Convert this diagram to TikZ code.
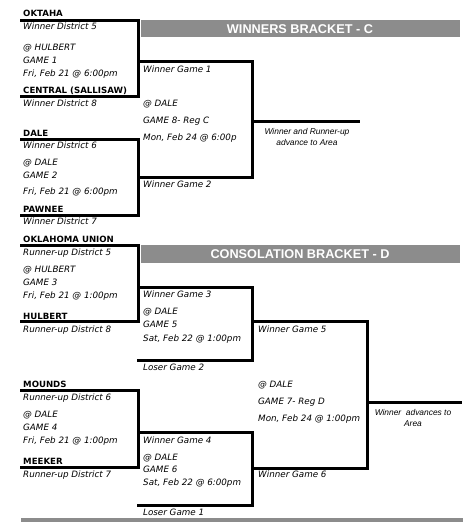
\documentclass[tikz,border=0pt]{standalone}
\usepackage{fontspec}
\setmainfont{DejaVu Sans}
\newfontfamily\arialfont{Liberation Sans}
\definecolor{bargray}{RGB}{140,140,140}
\tikzset{
  lbl/.style={anchor=base west, inner sep=0pt, font=\fontsize{8.75}{10}\selectfont\itshape},
  team/.style={anchor=base west, inner sep=0pt, font=\fontsize{8.6}{10}\selectfont\bfseries},
  note/.style={anchor=center, inner sep=0pt, align=center, font=\arialfont\fontsize{8.4}{10.2}\selectfont\itshape},
  bar/.style={fill=bargray, draw=none},
  bartitle/.style={anchor=center, inner sep=0pt, text=white, font=\arialfont\fontsize{12.7}{14}\selectfont\bfseries},
  bline/.style={line width=3pt, line cap=rect, draw=black}
}
\begin{document}
\begin{tikzpicture}[x=1pt,y=-1pt]
\useasboundingbox (0,0) rectangle (474,522);
% title bars
\fill[bar] (141,20) rectangle (460,37);
\node[bartitle] (tw) at (300,29) {WINNERS BRACKET - C};
\fill[bar] (141,245) rectangle (460,263);
\node[bartitle] (tc) at (300,254.5) {CONSOLATION BRACKET - D};
\fill[bar] (21,518) rectangle (463,522);
% coordinates
\coordinate (g1a) at (21,20); \coordinate (g1b) at (138,20);
\coordinate (g1c) at (138,96); \coordinate (g1d) at (21,96);
\coordinate (g1o) at (138,61); \coordinate (g8a) at (252,61);
\coordinate (g2a) at (21,139); \coordinate (g2b) at (138,139);
\coordinate (g2c) at (138,215); \coordinate (g2d) at (21,215);
\coordinate (g2o) at (138,177); \coordinate (g8b) at (252,177);
\coordinate (g8o) at (252,121); \coordinate (g8e) at (358,121);
\coordinate (g3a) at (21,245); \coordinate (g3b) at (138,245);
\coordinate (g3c) at (138,321); \coordinate (g3d) at (21,321);
\coordinate (g3o) at (138,287); \coordinate (g5a) at (252,287);
\coordinate (g5b) at (252,360); \coordinate (g5c) at (138,360);
\coordinate (g5o) at (252,321); \coordinate (g7a) at (367,321);
\coordinate (g4a) at (21,390); \coordinate (g4b) at (138,390);
\coordinate (g4c) at (138,467); \coordinate (g4d) at (21,467);
\coordinate (g4o) at (138,432); \coordinate (g6a) at (252,432);
\coordinate (g6b) at (252,505); \coordinate (g6c) at (138,505);
\coordinate (g6o) at (252,468); \coordinate (g7b) at (367,468);
\coordinate (g7o) at (367,402); \coordinate (g7e) at (460,402);
% bracket lines
\draw[bline] (g1a) -- (g1b) -- (g1c) -- (g1d);
\draw[bline] (g1o) -- (g8a);
\draw[bline] (g2a) -- (g2b) -- (g2c) -- (g2d);
\draw[bline] (g2o) -- (g8b);
\draw[bline] (g8a) -- (g8b);
\draw[bline] (g8o) -- (g8e);
\draw[bline] (g3a) -- (g3b) -- (g3c) -- (g3d);
\draw[bline] (g3o) -- (g5a) -- (g5b) -- (g5c);
\draw[bline] (g5o) -- (g7a);
\draw[bline] (g4a) -- (g4b) -- (g4c) -- (g4d);
\draw[bline] (g4o) -- (g6a) -- (g6b) -- (g6c);
\draw[bline] (g6o) -- (g7b);
\draw[bline] (g7a) -- (g7b);
\draw[bline] (g7o) -- (g7e);
% column 1
\node[team] (t1) at (23,16.5) {OKTAHA};
\node[lbl] (t1s) at (23,29.5) {Winner District 5};
\node[lbl] (g1l1) at (23,50.5) {@ HULBERT};
\node[lbl] (g1l2) at (23,63.5) {GAME 1};
\node[lbl] (g1l3) at (23,76.5) {Fri, Feb 21 @ 6:00pm};
\node[team] (t2) at (23,93.5) {CENTRAL (SALLISAW)};
\node[lbl] (t2s) at (23,106.5) {Winner District 8};
\node[team] (t3) at (23,136.5) {DALE};
\node[lbl] (t3s) at (23,148.5) {Winner District 6};
\node[lbl] (g2l1) at (23,165.5) {@ DALE};
\node[lbl] (g2l2) at (23,178.5) {GAME 2};
\node[lbl] (g2l3) at (23,194.5) {Fri, Feb 21 @ 6:00pm};
\node[team] (t4) at (23,212.5) {PAWNEE};
\node[lbl] (t4s) at (23,224.5) {Winner District 7};
\node[team] (t5) at (23,242.5) {OKLAHOMA UNION};
\node[lbl] (t5s) at (23,255.5) {Runner-up District 5};
\node[lbl] (g3l1) at (23,272.5) {@ HULBERT};
\node[lbl] (g3l2) at (23,285.5) {GAME 3};
\node[lbl] (g3l3) at (23,298.5) {Fri, Feb 21 @ 1:00pm};
\node[team] (t6) at (23,319.5) {HULBERT};
\node[lbl] (t6s) at (23,332.5) {Runner-up District 8};
\node[team] (t7) at (23,387.5) {MOUNDS};
\node[lbl] (t7s) at (23,400.5) {Runner-up District 6};
\node[lbl] (g4l1) at (23,417.5) {@ DALE};
\node[lbl] (g4l2) at (23,430.5) {GAME 4};
\node[lbl] (g4l3) at (23,443.5) {Fri, Feb 21 @ 1:00pm};
\node[team] (t8) at (23,464.5) {MEEKER};
\node[lbl] (t8s) at (23,477.5) {Runner-up District 7};
% column 2
\node[lbl] (w1) at (143,72.5) {Winner Game 1};
\node[lbl] (g8l1) at (143,106.5) {@ DALE};
\node[lbl] (g8l2) at (143,123.5) {GAME 8- Reg C};
\node[lbl] (g8l3) at (143,140.5) {Mon, Feb 24 @ 6:00p};
\node[lbl] (w2) at (143,187.5) {Winner Game 2};
\node[lbl] (w3) at (143,297.5) {Winner Game 3};
\node[lbl] (g5l1) at (143,314.5) {@ DALE};
\node[lbl] (g5l2) at (143,327.5) {GAME 5};
\node[lbl] (g5l3) at (143,341.5) {Sat, Feb 22 @ 1:00pm};
\node[lbl] (l2) at (143,370.5) {Loser Game 2};
\node[lbl] (w4) at (143,443.5) {Winner Game 4};
\node[lbl] (g6l1) at (143,460.5) {@ DALE};
\node[lbl] (g6l2) at (143,472.5) {GAME 6};
\node[lbl] (g6l3) at (143,485.5) {Sat, Feb 22 @ 6:00pm};
\node[lbl] (l1) at (143,515.5) {Loser Game 1};
% column 3
\node[lbl] (w5) at (258,332.5) {Winner Game 5};
\node[lbl] (g7l1) at (258,387.5) {@ DALE};
\node[lbl] (g7l2) at (258,404.5) {GAME 7- Reg D};
\node[lbl] (g7l3) at (258,421.5) {Mon, Feb 24 @ 1:00pm};
\node[lbl] (w6) at (258,477.5) {Winner Game 6};
% notes
\node[note] (n1) at (307,137) {Winner and Runner-up\\advance to Area};
\node[note] (n2) at (413,418) {Winner\ \ advances to\\Area};
\end{tikzpicture}
\end{document}
